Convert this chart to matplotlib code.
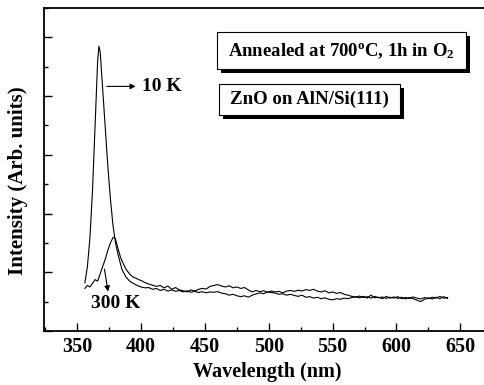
import matplotlib
matplotlib.use("Agg")
import matplotlib.pyplot as plt
from matplotlib.patches import Rectangle
from matplotlib.ticker import MultipleLocator, NullFormatter

plt.rcParams['font.family'] = ['Liberation Serif', 'DejaVu Serif']
plt.rcParams['font.weight'] = 'bold'
plt.rcParams['mathtext.fontset'] = 'custom'
plt.rcParams['mathtext.rm'] = 'Liberation Serif:bold'
plt.rcParams['mathtext.it'] = 'Liberation Serif:bold'
plt.rcParams['mathtext.bf'] = 'Liberation Serif:bold'

# 10 K spectrum
w10 = [356, 358, 360, 362, 364, 366, 367, 368, 370, 372, 374, 376, 378, 380, 382, 385, 388, 391, 394, 397,
       400, 403, 406, 409, 412, 415, 418, 421, 424, 427, 430, 433, 436, 439, 442, 445, 448, 451, 454, 457,
       460, 463, 466, 469, 472, 475, 478, 481, 484, 487, 490, 493, 496, 499, 502, 505, 508, 511, 514, 517,
       520, 523, 526, 529, 532, 535, 538, 541, 544, 547, 550, 553, 556, 559, 562, 565, 568, 571, 574, 577,
       580, 583, 586, 589, 592, 595, 598, 601, 604, 607, 610, 613, 616, 619, 622, 625, 628, 631, 634, 637, 640]
i10 = [1.64, 2.2, 3.2, 4.8, 7.0, 9.2, 9.7, 9.5, 8.2, 6.9, 5.6, 4.5, 3.6, 3.0, 2.6, 2.1, 1.85, 1.7, 1.62, 1.55,
       1.5, 1.47, 1.48, 1.42, 1.45, 1.38, 1.42, 1.36, 1.40, 1.35, 1.38, 1.33, 1.37, 1.32, 1.35, 1.31, 1.34, 1.30, 1.33, 1.32,
       1.34, 1.29, 1.27, 1.22, 1.25, 1.20, 1.17, 1.20, 1.15, 1.22, 1.26, 1.30, 1.27, 1.33, 1.31, 1.29, 1.25, 1.27, 1.22, 1.25,
       1.21, 1.18, 1.22, 1.15, 1.17, 1.12, 1.15, 1.10, 1.13, 1.08, 1.06, 1.10, 1.08, 1.12, 1.10, 1.14, 1.17, 1.13, 1.18, 1.12,
       1.22, 1.13, 1.15, 1.10, 1.18, 1.12, 1.16, 1.11, 1.15, 1.09, 1.14, 1.10, 1.05, 1.00, 1.08, 1.13, 1.09, 1.15, 1.10, 1.17, 1.11]

# 300 K spectrum
w300 = [356, 358, 360, 362, 364, 366, 368, 370, 372, 374, 376, 378, 379, 380, 382, 384, 386, 388, 390, 392,
        394, 396, 398, 400, 403, 406, 409, 412, 415, 418, 421, 424, 427, 430, 433, 436, 439, 442, 445, 448,
        451, 454, 457, 460, 463, 466, 469, 472, 475, 478, 481, 484, 487, 490, 493, 496, 499, 502, 505, 508,
        511, 514, 517, 520, 523, 526, 529, 532, 535, 538, 541, 544, 547, 550, 553, 556, 559, 562, 565, 568,
        571, 574, 577, 580, 583, 586, 589, 592, 595, 598, 601, 604, 607, 610, 613, 616, 619, 622, 625, 628,
        631, 634, 637, 640]
i300 = [1.45, 1.55, 1.5, 1.62, 1.75, 1.7, 1.95, 2.2, 2.45, 2.75, 3.0, 3.18, 3.2, 3.12, 2.8, 2.5, 2.3, 2.12, 2.0, 1.9,
        1.83, 1.8, 1.75, 1.72, 1.65, 1.6, 1.56, 1.52, 1.55, 1.47, 1.53, 1.42, 1.48, 1.40, 1.37, 1.33, 1.40, 1.36, 1.42, 1.45,
        1.43, 1.52, 1.55, 1.58, 1.53, 1.50, 1.54, 1.47, 1.50, 1.45, 1.48, 1.40, 1.33, 1.38, 1.34, 1.37, 1.32, 1.36, 1.33, 1.35,
        1.30, 1.36, 1.38, 1.35, 1.39, 1.36, 1.41, 1.38, 1.42, 1.36, 1.33, 1.37, 1.30, 1.33, 1.28, 1.31, 1.25, 1.22, 1.18, 1.15,
        1.19, 1.14, 1.17, 1.12, 1.18, 1.13, 1.16, 1.11, 1.15, 1.12, 1.17, 1.10, 1.14, 1.11, 1.16, 1.12, 1.09, 1.14, 1.10, 1.15,
        1.12, 1.18, 1.12, 1.14]

x_ticks = [350, 400, 450, 500, 550, 600, 650]
box1_text = r"Annealed at 700$^{\mathrm{o}}$C, 1h in O$_{\mathrm{2}}$"
box2_text = "ZnO on AlN/Si(111)"
label_10k = "10 K"
label_300k = "300 K"

fig = plt.figure(figsize=(4.85, 3.85), dpi=100)
ax = fig.add_axes([44/485, 54/385, 447/485, 323/385])

ax.plot(w10, i10, color='black', lw=0.8)
ax.plot(w300, i300, color='black', lw=0.8)

ax.set_xlim(324, 674)
ax.set_ylim(0, 11)
ax.set_xticks(x_ticks)
ax.xaxis.set_minor_locator(MultipleLocator(25))
ax.yaxis.set_major_locator(MultipleLocator(2))
ax.yaxis.set_minor_locator(MultipleLocator(1))
ax.yaxis.set_major_formatter(NullFormatter())
ax.tick_params(which='both', direction='in', top=False, right=False, width=1.0)
ax.tick_params(which='major', length=6)
ax.tick_params(which='minor', length=3)
ax.tick_params(axis='x', labelsize=14.5, pad=4)
for lab in ax.get_xticklabels():
    lab.set_fontweight('bold')
ax.spines['right'].set_visible(False)
for s in ['left', 'bottom', 'top']:
    ax.spines[s].set_linewidth(1.3)

ax.set_xlabel("Wavelength (nm)", fontsize=14.5, fontweight='bold', labelpad=4)
ax.set_ylabel("Intensity (Arb. units)", fontsize=15, fontweight='bold')
ax.yaxis.set_label_coords(-0.036, 0.464)

# annotations
ax.annotate("", xy=(398, 8.33), xytext=(371, 8.33),
            arrowprops=dict(arrowstyle='-|>', color='black', lw=0.8, mutation_scale=8))
ax.text(401, 8.33, label_10k, fontsize=14, fontweight='bold', va='center', ha='left')
ax.annotate("", xy=(374.5, 1.25), xytext=(371, 2.2),
            arrowprops=dict(arrowstyle='-|>', color='black', lw=0.8, mutation_scale=8))
ax.text(380, 0.93, label_300k, fontsize=14, fontweight='bold', va='center', ha='center')

# boxes with shadows
dx = 4 * 50 / 64
dy = 4 / 29.3
def shadow_box(x0, x1, y0, y1, txt, fs):
    ax.add_patch(Rectangle((x0 + dx, y0 - dy), x1 - x0, y1 - y0, facecolor='black',
                           edgecolor='black', lw=0, zorder=4))
    ax.add_patch(Rectangle((x0, y0), x1 - x0, y1 - y0, facecolor='white',
                           edgecolor='black', lw=0.8, zorder=5))
    ax.text((x0 + x1) / 2, (y0 + y1) / 2, txt, fontsize=fs, fontweight='bold',
            ha='center', va='center', zorder=6)

shadow_box(459.4, 654.7, 8.91, 10.17, box1_text, 13.5)
shadow_box(461, 603, 7.37, 8.40, box2_text, 13.6)

fig.savefig("out.png", dpi=100)
